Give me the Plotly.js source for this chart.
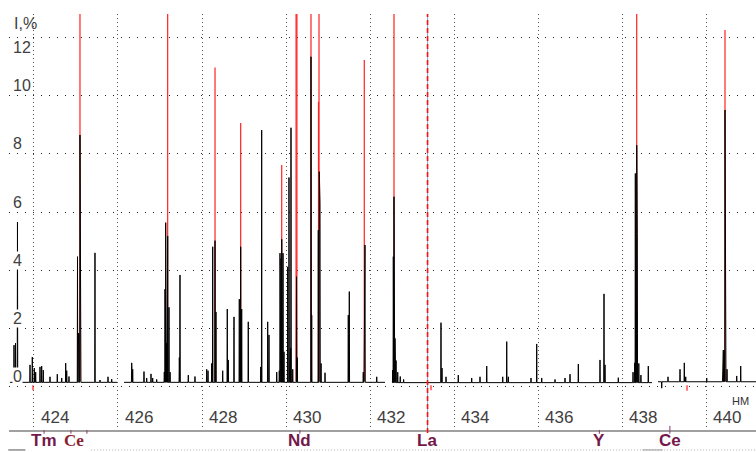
<!DOCTYPE html>
<html>
<head>
<meta charset="utf-8">
<script src="https://cdn.plot.ly/plotly-3.0.1.min.js"></script>
<style>html,body{margin:0;padding:0;background:#fff;}#chart{width:756px;height:452px;}</style>
</head>
<body>
<div id="chart"></div>
<script>
// ---- data (wavelength in nm, intensity in %) ----
const xTicks = [424, 426, 428, 430, 432, 434, 436, 438, 440];
const yTicks = [0, 2, 4, 6, 8, 10, 12];

// spectrum pieces (detector segments) and their baseline levels
const segStart = [423.43, 426.143, 432.524, 438.857];
const segEnd   = [425.976, 432.357, 438.714, 441.19];
const segBase  = [0.15, 0.15, 0.14, 0.17];

// black spectrum line peaks
const peakX = [
  423.524, 423.560, 423.607, 423.905, 423.960, 424.007, 424.040, 424.143, 424.183, 424.221,
  424.381, 424.555, 424.660, 424.755, 424.779, 424.833, 425.036, 425.060, 425.072, 425.095,
  425.112, 425.452, 425.571, 425.762, 425.850,
  426.326, 426.350, 426.619, 426.683, 426.786, 426.826, 426.921, 427.102, 427.119, 427.136,
  427.160, 427.183, 427.214, 427.240, 427.460, 427.476, 427.674, 427.833, 428.112, 428.143,
  428.231, 428.255, 428.310, 428.333, 428.493, 428.602, 428.626, 428.762, 428.888, 428.921,
  428.945, 429.102, 429.398, 429.421, 429.564, 429.595, 429.779, 429.840, 429.857, 429.881,
  429.898, 429.912, 429.929, 429.952, 430.040, 430.071, 430.079, 430.112, 430.119, 430.160,
  430.250, 430.269, 430.595, 430.612, 430.769, 430.793, 430.810, 430.835, 430.929, 431.483,
  431.507, 431.840, 431.864, 431.881, 432.160,
  432.540, 432.555, 432.571, 432.595, 432.620, 432.660, 432.720, 432.800, 433.690, 433.714,
  433.810, 434.102, 434.421, 434.619, 434.779, 435.160, 435.255, 435.293, 435.833, 435.969,
  436.088, 436.405, 436.643, 436.762, 436.960, 437.476, 437.571, 437.595, 437.912, 438.262,
  438.300, 438.317, 438.350, 438.364, 438.400, 438.450, 438.626,
  438.945, 439.095, 439.381, 439.483, 439.517, 440.017, 440.398, 440.412, 440.436, 440.452,
  440.469, 440.500, 440.731, 440.826
];
const peakY = [
  1.43, 1.50, 5.66, 0.75, 1.02, 0.64, 0.50, 0.68, 0.71, 0.57,
  0.34, 0.43, 0.30, 0.81, 0.55, 0.35, 4.47, 1.84, 1.80, 8.65,
  1.70, 4.60, 0.23, 0.34, 0.26,
  0.82, 0.60, 0.52, 0.30, 0.44, 0.30, 0.25, 0.50, 3.35, 5.64,
  1.50, 5.18, 2.73, 0.50, 1.00, 3.84, 0.40, 0.35, 0.60, 0.55,
  0.80, 4.81, 5.02, 2.57, 0.55, 2.67, 0.92, 2.40, 3.01, 4.81,
  2.67, 2.23, 0.68, 8.82, 2.23, 1.78, 0.50, 0.55, 4.59, 4.40,
  5.07, 4.50, 4.59, 1.20, 4.12, 7.19, 1.33, 1.33, 8.90, 0.60,
  3.78, 1.00, 11.34, 2.46, 5.38, 7.39, 6.32, 0.80, 0.48, 2.46,
  3.27, 0.50, 4.24, 4.87, 0.34,
  0.57, 4.47, 6.53, 1.66, 0.90, 0.50, 0.35, 0.25, 2.20, 0.64,
  0.34, 0.40, 0.30, 0.34, 0.71, 0.34, 1.55, 0.34, 0.30, 1.47,
  0.30, 0.25, 0.30, 0.43, 0.78, 0.92, 3.19, 0.75, 0.31, 0.50,
  0.82, 7.33, 8.30, 5.27, 0.80, 0.40, 0.71,
  -0.05, 0.34, 0.60, 0.82, 0.34, 0.30, 0.70, 1.26, 1.26, 9.51,
  4.93, 0.60, 0.37, 0.71
];

// red (overexposed) line tops
const redX = [425.095, 427.183, 428.310, 428.921, 429.898, 430.240, 430.260, 430.595, 430.774, 430.786, 431.864, 432.571, 438.350, 440.452];
const redY = [14, 14, 10.97, 9.06, 7.62, 14, 14, 14, 9.79, 14, 11.23, 14, 14, 12.26];
// small red marks under baseline
const markX = [423.976, 433.452, 439.548];
const markTop = [0.05, 0.05, 0.05];
const markBottom = [-0.12, -0.12, -0.14];

// element identification
const elemTickX = [424.24, 424.88, 425.26, 430.33, 437.46, 439.14];
const elemName = ['Tm', 'Ce', 'Nd', 'La', 'Y', 'Ce'];
const elemLabelX = [424.24, 424.95, 430.33, 433.36, 437.46, 439.14];
const laLineX = 433.37;

// ---- build traces ----
const hw = 0.006;
const bx = [], by = [];
for (let s = 0; s < segStart.length; s++) {
  const base = segBase[s];
  const pts = [];
  for (let i = 0; i < peakX.length; i++) {
    if (peakX[i] >= segStart[s] && peakX[i] <= segEnd[s]) pts.push([peakX[i], peakY[i]]);
  }
  pts.sort((a, b) => a[0] - b[0]);
  bx.push(segStart[s]); by.push(base);
  pts.forEach(p => {
    bx.push(p[0] - hw, p[0], p[0] + hw);
    by.push(base, p[1], base);
  });
  bx.push(segEnd[s]); by.push(base);
  bx.push(null); by.push(null);
}
const rx = [], ry = [];
for (let i = 0; i < redX.length; i++) {
  rx.push(redX[i], redX[i], null);
  ry.push(0.2, redY[i], null);
}
for (let i = 0; i < markX.length; i++) {
  rx.push(markX[i], markX[i], null);
  ry.push(markTop[i], markBottom[i], null);
}

const traces = [
  {x: rx, y: ry, type: 'scatter', mode: 'lines', line: {color: '#ff2020', width: 1.2}, hoverinfo: 'skip', connectgaps: false},
  {x: bx, y: by, type: 'scatter', mode: 'lines', line: {color: '#000000', width: 1}, hoverinfo: 'skip', connectgaps: false}
];

const txtFont = 'Liberation Sans, Arial, sans-serif';
const annotations = [];
xTicks.forEach(t => annotations.push({
  x: t, y: -1.06, xref: 'x', yref: 'y', text: String(t), showarrow: false,
  xanchor: 'left', yanchor: 'middle', xshift: 5,
  font: {family: txtFont, size: 17, color: '#404040'}
}));
const yMax = Math.max(...yTicks);
yTicks.forEach(t => annotations.push({
  x: 0, y: t, xref: 'paper', yref: 'y', text: String(t), showarrow: false,
  xanchor: 'left', yanchor: 'middle', xshift: 3, yshift: t === yMax ? -10 : 10,
  bgcolor: '#ffffff', borderpad: 0,
  font: {family: txtFont, size: 16, color: '#404040'}
}));
annotations.push({x: 0, y: 0.978, xref: 'paper', yref: 'paper', text: 'I,%', showarrow: false,
  xanchor: 'left', yanchor: 'middle', xshift: 3, font: {family: txtFont, size: 16, color: '#404040'}});
annotations.push({x: 0.9786, y: 0.0697, xref: 'paper', yref: 'paper', text: 'HM', showarrow: false,
  xanchor: 'center', yanchor: 'middle', font: {family: txtFont, size: 11, color: '#333'}});
elemName.forEach((n, i) => annotations.push({
  x: elemLabelX[i], y: -0.0264, xref: 'x', yref: 'paper', text: n, showarrow: false,
  xanchor: 'center', yanchor: 'middle',
  font: {family: i === 1 ? 'Liberation Serif, Times New Roman, serif' : txtFont, size: 17,
         color: i === 1 ? '#8a1f2f' : '#74184a', weight: 'bold'}
}));

const shapes = [];
elemTickX.forEach((x, i) => shapes.push({
  type: 'line', xref: 'x', yref: 'paper', x0: x, x1: x,
  y0: i === 5 ? 0.01 : 0, y1: -0.009, line: {color: '#8a3a6a', width: 1}
}));
shapes.push({type: 'line', xref: 'x', yref: 'paper', x0: laLineX, x1: laLineX, y0: -0.007, y1: 1,
  line: {color: '#8aa0e8', width: 1}});
shapes.push({type: 'line', xref: 'x', yref: 'paper', x0: laLineX, x1: laLineX, y0: -0.007, y1: 1,
  line: {color: '#ff1010', width: 1.6, dash: '5px,3px'}});
shapes.push({type: 'line', xref: 'paper', yref: 'paper', x0: 0.11, x1: 1, y0: -0.048, y1: -0.048,
  line: {color: '#b0b0b0', width: 1, dash: '1px,2px'}});
shapes.push({type: 'line', xref: 'paper', yref: 'paper', x0: -0.001, x1: 0.022, y0: -0.048, y1: -0.048,
  line: {color: '#555', width: 1}});
shapes.push({type: 'line', xref: 'paper', yref: 'paper', x0: 0.848, x1: 0.875, y0: -0.048, y1: -0.048,
  line: {color: '#999', width: 1}});

const layout = {
  width: 756, height: 452,
  margin: {l: 9, r: 0, t: 14, b: 22, pad: 0},
  paper_bgcolor: '#ffffff', plot_bgcolor: '#ffffff',
  showlegend: false,
  xaxis: {range: [423.405, 441.19], tickvals: xTicks, showticklabels: false, ticks: '',
    showgrid: true, gridcolor: '#555', gridwidth: 1, griddash: '1px,3px',
    zeroline: false, showline: true, linecolor: '#a0a0a0', linewidth: 1.5, fixedrange: true},
  yaxis: {range: [-1.488, 12.81], tickvals: yTicks, showticklabels: false, ticks: '',
    showgrid: true, gridcolor: '#222', gridwidth: 1, griddash: '1px,7px',
    zeroline: false, showline: false, fixedrange: true},
  annotations: annotations,
  shapes: shapes
};

Plotly.newPlot('chart', traces, layout, {staticPlot: true, displayModeBar: false});
</script>
</body>
</html>
